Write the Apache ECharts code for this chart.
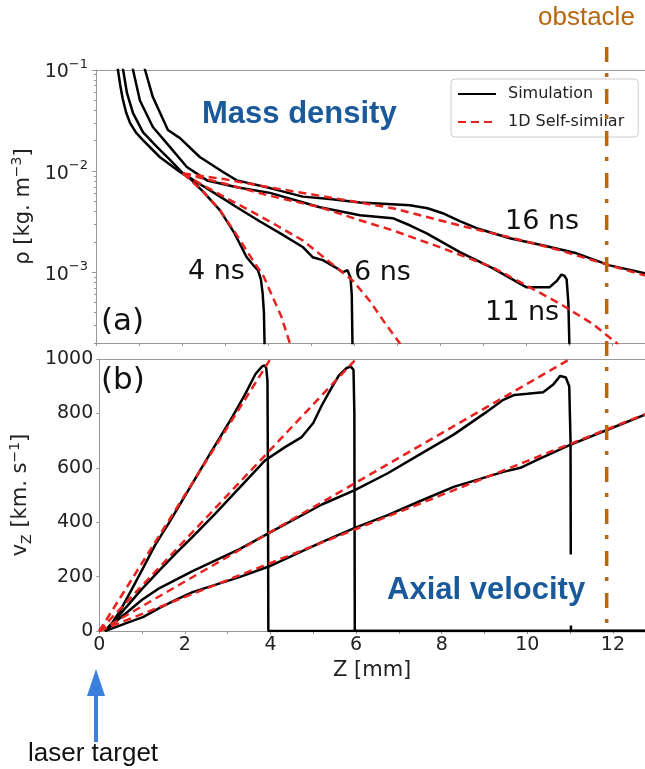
<!DOCTYPE html>
<html lang="en">
<head>
<meta charset="UTF-8">
<title>mass density / axial velocity</title>
<script src="https://cdn.jsdelivr.net/npm/echarts@6.0.0/dist/echarts.min.js"></script>
<style>
  html, body { margin: 0; padding: 0; background: #fff; }
  #chart { width: 645px; height: 769px; }
</style>
</head>
<body>
<div id="chart"></div>
<script>
// shared axis values
var zMax = 12.75;
var zTicks = [0, 1, 2, 3, 4, 5, 6, 7, 8, 9, 10, 11, 12];
var zLabels = [0, 2, 4, 6, 8, 10, 12];
var rhoLabels = [0.001, 0.01, 0.1];
var rhoMinor = [0.0002, 0.0003, 0.0004, 0.0005, 0.0006, 0.0007, 0.0008, 0.0009,
                0.002, 0.003, 0.004, 0.005, 0.006, 0.007, 0.008, 0.009,
                0.02, 0.03, 0.04, 0.05, 0.06, 0.07, 0.08, 0.09];
var obstacleZ = 11.86;

// (a) mass density, [z mm, rho kg/m3]
var rhoSim4 = [[0.47,0.13],[0.51,0.1],[0.56,0.072],[0.62,0.052],[0.7,0.038],[0.79,0.030],[0.93,0.024],[1.09,0.0203],
  [1.48,0.0138],[1.95,0.0098],[2.18,0.0085],[2.5,0.0062],[2.88,0.0041],[3.2,0.0025],[3.5,0.00141],
  [3.65,0.00118],[3.76,0.00105],[3.83,0.00085],[3.87,0.00062],[3.9,0.0004],[3.92,0.00015]];
var rhoSim6 = [[0.6,0.13],[0.63,0.1],[0.72,0.059],[0.86,0.0375],[1.09,0.0243],[1.42,0.0173],[1.72,0.0129],
  [2.02,0.0095],[2.4,0.0075],[2.8,0.0059],[3.27,0.0044],[3.8,0.0032],[4.3,0.0024],[4.8,0.00178],
  [5.03,0.00141],[5.27,0.00132],[5.59,0.0011],[5.73,0.001],[5.84,0.00105],[5.91,0.00089],[5.94,0.0006],[5.96,0.00015]];
var rhoSim11 = [[0.83,0.13],[0.86,0.1],[1.02,0.05],[1.32,0.0273],[1.72,0.0173],[2.11,0.011],[2.58,0.0081],
  [3.3,0.0069],[4.04,0.0061],[5.2,0.0044],[6.13,0.00367],[6.89,0.00343],[7.3,0.0029],[7.68,0.00243],
  [8.45,0.00158],[9.21,0.0011],[10.0,0.00071],[10.53,0.00071],[10.7,0.00082],[10.81,0.00095],
  [10.88,0.00092],[10.93,0.00085],[10.97,0.0005],[11.0,0.00015]];
var rhoSim16 = [[1.08,0.13],[1.14,0.1],[1.32,0.054],[1.67,0.0255],[1.95,0.0212],[2.41,0.0138],[2.95,0.0098],
  [3.27,0.0081],[4.04,0.0068],[4.8,0.0056],[5.43,0.0053],[6.13,0.0049],[7.29,0.0046],[7.7,0.0043],
  [8.05,0.00384],[8.45,0.0032],[8.84,0.00273],[9.61,0.00217],[10.37,0.00185],[11.16,0.00154],
  [11.93,0.00117],[12.75,0.00098]];
var rhoSelf4 = [[2.02,0.0095],[2.45,0.0065],[2.88,0.0041],[3.25,0.0024],[3.64,0.00132],[3.9,0.0009],
  [4.11,0.00056],[4.3,0.00037],[4.5,0.0002],[4.6,0.00015]];
var rhoSelf6 = [[2.02,0.0095],[2.5,0.0072],[3.0,0.0055],[3.64,0.00393],[4.2,0.0029],[4.8,0.00207],
  [5.4,0.00129],[5.96,0.00083],[6.36,0.00052],[6.7,0.00032],[7.05,0.0002],[7.15,0.00016]];
var rhoSelf11 = [[2.02,0.0095],[3.0,0.0075],[4.04,0.0057],[5.2,0.0044],[6.13,0.00327],[6.89,0.0026],
  [8.05,0.00173],[9.21,0.00112],[10.0,0.00074],[10.77,0.00049],[11.53,0.00031],[12.09,0.0002],[12.2,0.00017]];
var rhoSelf16 = [[2.02,0.0095],[3.0,0.0083],[4.04,0.0069],[5.43,0.0055],[6.89,0.0043],[8.45,0.0029],
  [9.61,0.00222],[10.77,0.00165],[11.93,0.00117],[12.75,0.00093]];

// (b) axial velocity, [z mm, v km/s]
var velSim4 = [[0.13,0],[0.3,30],[0.49,75],[0.75,150],[1.02,230],[1.3,315],[1.64,400],[2.18,544],[2.6,655],
  [3.11,787],[3.4,868],[3.65,945],[3.8,972],[3.86,977],[3.9,968],[3.93,920],[3.94,600],[3.95,0],[12.75,0]];
var velSim6 = [[0.13,0],[0.32,29],[0.63,88],[1.0,155],[1.41,224],[1.8,287],[2.18,346],[2.7,430],[3.29,529],
  [3.88,628],[4.34,676],[4.73,713],[5.0,765],[5.2,830],[5.43,895],[5.6,940],[5.78,967],[5.88,972],
  [5.94,960],[5.96,800],[5.97,0],[12.75,0]];
var velSim11 = [[0.13,0],[0.35,30],[0.63,66],[1.0,115],[1.41,158],[2.18,220],[3.29,302],[3.96,360],[5.2,465],
  [5.97,518],[6.74,580],[7.5,650],[8.28,722],[9.0,800],[9.44,850],[9.7,868],[10.0,872],[10.37,878],
  [10.6,905],[10.77,938],[10.9,932],[10.98,900],[11.01,700],[11.02,0],[12.75,0]];
var velSim16 = [[0.13,0],[0.4,15],[0.63,29],[1.02,51],[1.41,85],[1.8,115],[2.18,143],[3.29,199],[3.96,237],
  [5.2,327],[5.97,379],[6.74,426],[7.5,478],[8.28,530],[9.44,585],[9.84,600],[10.23,629],[11.0,684],
  [11.86,739],[12.75,795]];
var velSelf4 = [[0,0],[4,1000]];
var velSelf6 = [[0,0],[6,1000]];
var velSelf11 = [[0,0],[11,1000]];
var velSelf16 = [[0,0],[12.75,797]];

var obstacleLine = [[obstacleZ,1],[obstacleZ,0]];

var axisGrey = '#999';
var labelColor = '#222';
var simColor = '#000';
var selfColor = '#e8231f';
var obstacleColor = '#b8660f';

function simSeries(data, xi, yi) {
  return { name: 'Simulation', type: 'line', xAxisIndex: xi, yAxisIndex: yi, data: data,
    symbol: 'none', z: 3, lineStyle: { color: simColor, width: 2.5 }, itemStyle: { color: simColor } };
}
function selfSeries(data, xi, yi) {
  return { name: '1D Self-similar', type: 'line', xAxisIndex: xi, yAxisIndex: yi, data: data,
    symbol: 'none', z: 4, lineStyle: { color: selfColor, width: 2.5, type: [8, 5] }, itemStyle: { color: selfColor } };
}

var myChart = echarts.init(document.getElementById('chart'), null, { renderer: 'canvas' });

var lineOnly = { show: true, lineStyle: { color: axisGrey, width: 1 } };
var nameRich = {
  sup: { fontSize: 14, verticalAlign: 'top', lineHeight: 26, fontFamily: 'DejaVu Sans', color: labelColor },
  sub: { fontSize: 14, verticalAlign: 'bottom', lineHeight: 26, fontFamily: 'DejaVu Sans', color: labelColor }
};

var option = {
  animation: false,
  backgroundColor: '#fff',
  grid: [
    { left: 96, top: 70, right: 0, height: 273 },
    { left: 96, top: 359, right: 0, height: 272 },
    { left: 96, top: 47, right: 0, height: 584 }
  ],
  legend: {
    left: 451, top: 79, orient: 'vertical',
    data: ['Simulation', '1D Self-similar'],
    itemWidth: 38, itemHeight: 14, itemGap: 12,
    padding: [7, 14, 7, 6],
    itemStyle: { opacity: 0, borderWidth: 0 },
    backgroundColor: 'rgba(255,255,255,0.85)', borderColor: '#ccc', borderWidth: 1, borderRadius: 4,
    textStyle: { fontFamily: 'DejaVu Sans', fontSize: 16, color: labelColor, padding: [0, 0, 0, 7] },
    selectedMode: false
  },
  xAxis: [
    { gridIndex: 0, type: 'value', min: 0, max: zMax, position: 'bottom',
      axisLine: lineOnly, splitLine: { show: false },
      axisTick: { show: true, customValues: zTicks, length: 3, lineStyle: { color: axisGrey } },
      axisLabel: { show: false } },
    { gridIndex: 0, type: 'value', min: 0, max: zMax, position: 'top',
      axisLine: lineOnly, splitLine: { show: false }, axisTick: { show: false }, axisLabel: { show: false } },
    { gridIndex: 1, type: 'value', min: 0, max: zMax, position: 'bottom',
      axisLine: lineOnly, splitLine: { show: false },
      axisTick: { show: true, customValues: zTicks, length: 3, lineStyle: { color: axisGrey } },
      axisLabel: { customValues: zLabels, fontFamily: 'DejaVu Sans', fontSize: 19, color: labelColor, margin: 5,
        alignMinLabel: 'center', alignMaxLabel: 'center', formatter: function (v) { return String(v); } },
      name: 'Z [mm]', nameLocation: 'middle', nameGap: 29,
      nameTextStyle: { fontFamily: 'DejaVu Sans', fontSize: 21, color: labelColor } },
    { gridIndex: 1, type: 'value', min: 0, max: zMax, position: 'top',
      axisLine: lineOnly, splitLine: { show: false }, axisTick: { show: false }, axisLabel: { show: false } },
    { gridIndex: 2, type: 'value', min: 0, max: zMax, show: false }
  ],
  yAxis: [
    { gridIndex: 0, type: 'log', logBase: 10, min: 0.0002, max: 0.1, position: 'left',
      axisLine: lineOnly, splitLine: { show: false },
      axisTick: { show: true, customValues: rhoLabels, length: 4, lineStyle: { color: axisGrey } },
      axisLabel: {
        customValues: rhoLabels, margin: 8, color: labelColor,
        formatter: function (v) {
          var e = Math.round(Math.log(v) / Math.LN10);
          return '{b|10}{sup|\u2212' + (-e) + '}';
        },
        rich: {
          b: { fontFamily: 'DejaVu Sans', fontSize: 19, color: labelColor, verticalAlign: 'bottom', lineHeight: 24 },
          sup: { fontFamily: 'DejaVu Sans', fontSize: 13, color: labelColor, verticalAlign: 'top', lineHeight: 24 }
        }
      },
      name: '\u03c1 [kg. m{sup|\u22123}]', nameLocation: 'middle', nameGap: 52,
      nameTextStyle: { fontFamily: 'DejaVu Sans', fontSize: 21, color: labelColor, rich: nameRich } },
    { gridIndex: 0, type: 'log', logBase: 10, min: 0.0002, max: 0.1, position: 'left',
      axisLine: { show: false }, splitLine: { show: false }, axisLabel: { show: false },
      axisTick: { show: true, customValues: rhoMinor, length: 2, lineStyle: { color: axisGrey } } },
    { gridIndex: 1, type: 'value', min: 0, max: 1000, interval: 200, position: 'left',
      axisLine: lineOnly, splitLine: { show: false },
      axisTick: { show: true, length: 3, lineStyle: { color: axisGrey } },
      axisLabel: { fontFamily: 'DejaVu Sans', fontSize: 19, color: labelColor, margin: 6,
        formatter: function (v) { return String(v); } },
      name: 'v{sub|Z} [km. s{sup|\u22121}]', nameLocation: 'middle', nameGap: 55,
      nameTextStyle: { fontFamily: 'DejaVu Sans', fontSize: 21, color: labelColor, rich: nameRich } },
    { gridIndex: 2, type: 'value', min: 0, max: 1, show: false }
  ],
  series: [
    simSeries(rhoSim4, 0, 0), simSeries(rhoSim6, 0, 0), simSeries(rhoSim11, 0, 0), simSeries(rhoSim16, 0, 0),
    selfSeries(rhoSelf4, 0, 0), selfSeries(rhoSelf6, 0, 0), selfSeries(rhoSelf11, 0, 0), selfSeries(rhoSelf16, 0, 0),
    simSeries(velSim4, 2, 2), simSeries(velSim6, 2, 2), simSeries(velSim11, 2, 2), simSeries(velSim16, 2, 2),
    selfSeries(velSelf4, 2, 2), selfSeries(velSelf6, 2, 2), selfSeries(velSelf11, 2, 2), selfSeries(velSelf16, 2, 2),
    { name: 'obstacle', type: 'line', xAxisIndex: 4, yAxisIndex: 3, data: obstacleLine, symbol: 'none',
      z: 200, silent: true,
      lineStyle: { color: obstacleColor, width: 3.5, type: [15, 11, 4, 12] } }
  ],
  graphic: [
    { type: 'text', x: 202, y: 114, style: { text: 'Mass density', font: 'bold 31px "Liberation Sans", Arial',
      fill: '#1b5a9a', align: 'left', verticalAlign: 'middle' } },
    { type: 'text', x: 385, y: 590, z: 100, style: { text: 'Axial velocity', font: 'bold 31px "Liberation Sans", Arial',
      fill: '#1b5a9a', align: 'left', verticalAlign: 'middle', backgroundColor: '#fff', padding: [22, 2, 18, 2] } },
    { type: 'text', x: 101, y: 322, style: { text: '(a)', font: '31px "DejaVu Sans"', fill: '#111', verticalAlign: 'middle' } },
    { type: 'text', x: 101, y: 381, style: { text: '(b)', font: '31px "DejaVu Sans"', fill: '#111', verticalAlign: 'middle' } },
    { type: 'text', x: 188, y: 272, style: { text: '4 ns', font: '27px "DejaVu Sans"', fill: '#111', verticalAlign: 'middle' } },
    { type: 'text', x: 354, y: 273, style: { text: '6 ns', font: '27px "DejaVu Sans"', fill: '#111', verticalAlign: 'middle' } },
    { type: 'text', x: 485, y: 313, style: { text: '11 ns', font: '27px "DejaVu Sans"', fill: '#111', verticalAlign: 'middle' } },
    { type: 'text', x: 505, y: 222, style: { text: '16 ns', font: '27px "DejaVu Sans"', fill: '#111', verticalAlign: 'middle' } },
    { type: 'text', x: 538, y: 18, style: { text: 'obstacle', font: '26px "Liberation Sans", Arial', fill: obstacleColor, verticalAlign: 'middle' } },
    { type: 'text', x: 28, y: 754, style: { text: 'laser target', font: '26px "Liberation Sans", Arial', fill: '#111', verticalAlign: 'middle' } },
    // arrow pointing at the target (z = 0)
    { type: 'polygon', shape: { points: [[96, 669], [87, 696], [105, 696]] }, style: { fill: '#3d7fdc' } },
    { type: 'rect', shape: { x: 94, y: 694, width: 4, height: 48 }, style: { fill: '#3d7fdc' } }
  ]
};

myChart.setOption(option);
</script>
</body>
</html>
